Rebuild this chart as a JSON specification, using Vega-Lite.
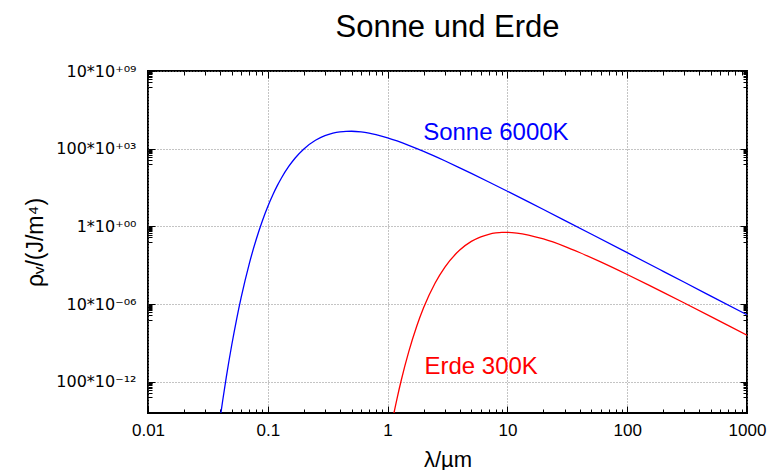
{
  "$schema": "https://vega.github.io/schema/vega-lite/v6.json",
  "width": 599,
  "height": 342,
  "autosize": {"type": "none"},
  "padding": {"left": 148, "top": 71, "right": 24, "bottom": 57},
  "background": "white",
  "config": {
    "font": "Liberation Sans",
    "view": {"stroke": "black", "strokeWidth": 2},
    "axis": {"labelColor": "black", "titleColor": "black", "tickColor": "black", "tickWidth": 1, "domain": false, "labelOverlap": false, "labelFlush": false, "titleFontWeight": "normal"}
  },
  "title": {"text": "Sonne und Erde", "fontSize": 31, "fontWeight": "normal", "font": "Liberation Sans", "color": "black", "baseline": "alphabetic", "offset": -5, "anchor": "middle"},
  "datasets": {
    "curves": [
      {"lam": 0.035, "u": 1.66e-16, "curve": "Sonne"},
      {"lam": 0.04, "u": 4.49e-13, "curve": "Sonne"},
      {"lam": 0.042, "u": 6.11e-12, "curve": "Sonne"},
      {"lam": 0.045, "u": 1.95e-10, "curve": "Sonne"},
      {"lam": 0.05, "u": 2.37e-8, "curve": "Sonne"},
      {"lam": 0.055, "u": 1.15e-6, "curve": "Sonne"},
      {"lam": 0.06, "u": 2.82e-5, "curve": "Sonne"},
      {"lam": 0.07, "u": 3.94e-3, "curve": "Sonne"},
      {"lam": 0.08, "u": 0.146, "curve": "Sonne"},
      {"lam": 0.09, "u": 2.27, "curve": "Sonne"},
      {"lam": 0.1, "u": 19.25, "curve": "Sonne"},
      {"lam": 0.11, "u": 105.7, "curve": "Sonne"},
      {"lam": 0.12, "u": 420.7, "curve": "Sonne"},
      {"lam": 0.13, "u": 1312, "curve": "Sonne"},
      {"lam": 0.15, "u": 7499, "curve": "Sonne"},
      {"lam": 0.17, "u": 26320, "curve": "Sonne"},
      {"lam": 0.2, "u": 96830, "curve": "Sonne"},
      {"lam": 0.25, "u": 3.496e5, "curve": "Sonne"},
      {"lam": 0.3, "u": 6.94e5, "curve": "Sonne"},
      {"lam": 0.35, "u": 1.007e6, "curve": "Sonne"},
      {"lam": 0.4, "u": 1.218e6, "curve": "Sonne"},
      {"lam": 0.45, "u": 1.319e6, "curve": "Sonne"},
      {"lam": 0.5, "u": 1.332e6, "curve": "Sonne"},
      {"lam": 0.6, "u": 1.202e6, "curve": "Sonne"},
      {"lam": 0.7, "u": 9.99e5, "curve": "Sonne"},
      {"lam": 0.8, "u": 8.01e5, "curve": "Sonne"},
      {"lam": 1, "u": 4.995e5, "curve": "Sonne"},
      {"lam": 1.2, "u": 3.148e5, "curve": "Sonne"},
      {"lam": 1.5, "u": 1.667e5, "curve": "Sonne"},
      {"lam": 2, "u": 6.74e4, "curve": "Sonne"},
      {"lam": 3, "u": 1.68e4, "curve": "Sonne"},
      {"lam": 4, "u": 5937, "curve": "Sonne"},
      {"lam": 5, "u": 2597, "curve": "Sonne"},
      {"lam": 7, "u": 727.5, "curve": "Sonne"},
      {"lam": 10, "u": 184.3, "curve": "Sonne"},
      {"lam": 15, "u": 37.93, "curve": "Sonne"},
      {"lam": 20, "u": 12.25, "curve": "Sonne"},
      {"lam": 30, "u": 2.47, "curve": "Sonne"},
      {"lam": 50, "u": 0.3253, "curve": "Sonne"},
      {"lam": 100, "u": 0.02058, "curve": "Sonne"},
      {"lam": 200, "u": 1.294e-3, "curve": "Sonne"},
      {"lam": 300, "u": 2.562e-4, "curve": "Sonne"},
      {"lam": 500, "u": 3.323e-5, "curve": "Sonne"},
      {"lam": 1000, "u": 2.08e-6, "curve": "Sonne"},
      {"lam": 1.0, "u": 7.41e-15, "curve": "Erde"},
      {"lam": 1.1, "u": 3.63e-13, "curve": "Erde"},
      {"lam": 1.2, "u": 8.83e-12, "curve": "Erde"},
      {"lam": 1.3, "u": 1.28e-10, "curve": "Erde"},
      {"lam": 1.5, "u": 8.55e-9, "curve": "Erde"},
      {"lam": 1.75, "u": 3.81e-7, "curve": "Erde"},
      {"lam": 2, "u": 6.02e-6, "curve": "Erde"},
      {"lam": 2.5, "u": 2.383e-4, "curve": "Erde"},
      {"lam": 3, "u": 2.344e-3, "curve": "Erde"},
      {"lam": 4, "u": 0.03027, "curve": "Erde"},
      {"lam": 5, "u": 0.1092, "curve": "Erde"},
      {"lam": 6, "u": 0.2168, "curve": "Erde"},
      {"lam": 7, "u": 0.3147, "curve": "Erde"},
      {"lam": 8, "u": 0.3805, "curve": "Erde"},
      {"lam": 9, "u": 0.4122, "curve": "Erde"},
      {"lam": 10, "u": 0.4162, "curve": "Erde"},
      {"lam": 12, "u": 0.3757, "curve": "Erde"},
      {"lam": 15, "u": 0.2803, "curve": "Erde"},
      {"lam": 20, "u": 0.1561, "curve": "Erde"},
      {"lam": 30, "u": 0.05209, "curve": "Erde"},
      {"lam": 40, "u": 0.02104, "curve": "Erde"},
      {"lam": 60, "u": 5.248e-3, "curve": "Erde"},
      {"lam": 100, "u": 8.116e-4, "curve": "Erde"},
      {"lam": 150, "u": 1.746e-4, "curve": "Erde"},
      {"lam": 200, "u": 5.76e-5, "curve": "Erde"},
      {"lam": 300, "u": 1.185e-5, "curve": "Erde"},
      {"lam": 500, "u": 1.587e-6, "curve": "Erde"},
      {"lam": 700, "u": 4.19e-7, "curve": "Erde"},
      {"lam": 1000, "u": 1.017e-7, "curve": "Erde"}
    ],
    "labels": [
      {"lam": 1.98, "u": 3.5e5, "curve": "Sonne", "label": "Sonne 6000K"},
      {"lam": 2.03, "u": 3.2e-10, "curve": "Erde", "label": "Erde 300K"}
    ]
  },
  "layer": [
    {
      "data": {"name": "curves"},
      "mark": {"type": "line", "clip": true, "strokeWidth": 1.3, "interpolate": "monotone"},
      "encoding": {
        "x": {
          "field": "lam", "type": "quantitative",
          "scale": {"type": "log", "domain": [0.01, 1000], "nice": false},
          "axis": {
            "orient": "bottom",
            "title": "λ/µm", "titleFontSize": 22, "titlePadding": 8,
            "values": [0.01,0.02,0.03,0.04,0.05,0.06,0.07,0.08,0.09,0.1,0.2,0.3,0.4,0.5,0.6,0.7,0.8,0.9,1,2,3,4,5,6,7,8,9,10,20,30,40,50,60,70,80,90,100,200,300,400,500,600,700,800,900,1000],
            "labelExpr": "indexof([0.01,0.1,1,10,100,1000], datum.value) >= 0 ? datum.value == 0.01 ? '0.01' : datum.value == 0.1 ? '0.1' : format(datum.value, 'd') : ''",
            "labelFontSize": 17, "labelPadding": 16,
            "tickSize": {"condition": {"test": "indexof([0.01,0.1,1,10,100,1000], datum.value) >= 0", "value": -7}, "value": -4},
            "grid": true, "gridColor": "#888888", "gridDash": [1, 2], "gridWidth": 1,
            "gridOpacity": {"condition": {"test": "indexof([0.01,0.1,1,10,100,1000], datum.value) >= 0", "value": 1}, "value": 0}
          }
        },
        "y": {
          "field": "u", "type": "quantitative",
          "scale": {"type": "log", "domain": [1e-12, 1e10], "nice": false},
          "axis": {
            "orient": "left",
            "title": "ρᵥ/(J/m⁴)", "titleFontSize": 23, "titlePadding": 8,
            "values": [1e10,9e9,8e9,7e9,6e9,5e9,4e9,3e9,2e9,1e9,1e5,9e4,8e4,7e4,6e4,5e4,4e4,3e4,2e4,1e4,1,0.9,0.8,0.7,0.6,0.5,0.4,0.3,0.2,0.1,1e-5,9e-6,8e-6,7e-6,6e-6,5e-6,4e-6,3e-6,2e-6,1e-6,1e-10,9e-11,8e-11,7e-11,6e-11,5e-11,4e-11,3e-11,2e-11,1e-11],
            "labelExpr": "datum.value == 1e10 ? '10*10⁺⁰⁹' : datum.value == 1e5 ? '100*10⁺⁰³' : datum.value == 1 ? '1*10⁺⁰⁰' : datum.value == 1e-5 ? '10*10⁻⁰⁶' : datum.value == 1e-10 ? '100*10⁻¹²' : ''",
            "labelFont": "DejaVu Sans", "labelFontSize": 16, "labelPadding": 19,
            "tickSize": {"condition": {"test": "indexof([1e10,1e5,1,1e-5,1e-10], datum.value) >= 0", "value": -7}, "value": -4},
            "grid": true, "gridColor": "#888888", "gridDash": [1, 2], "gridWidth": 1,
            "gridOpacity": {"condition": {"test": "indexof([1e10,1e5,1,1e-5,1e-10], datum.value) >= 0", "value": 1}, "value": 0}
          }
        },
        "color": {"field": "curve", "type": "nominal", "scale": {"domain": ["Sonne", "Erde"], "range": ["#0000ff", "#ff0000"]}, "legend": null},
        "detail": {"field": "curve"}
      }
    },
    {
      "data": {"name": "labels"},
      "mark": {"type": "text", "align": "left", "baseline": "alphabetic", "fontSize": 24, "font": "Liberation Sans"},
      "encoding": {
        "x": {
          "field": "lam", "type": "quantitative",
          "axis": {
            "orient": "top", "title": null, "labels": false, "grid": false,
            "values": [0.01,0.02,0.03,0.04,0.05,0.06,0.07,0.08,0.09,0.1,0.2,0.3,0.4,0.5,0.6,0.7,0.8,0.9,1,2,3,4,5,6,7,8,9,10,20,30,40,50,60,70,80,90,100,200,300,400,500,600,700,800,900,1000],
            "tickSize": {"condition": {"test": "indexof([0.01,0.1,1,10,100,1000], datum.value) >= 0", "value": -7}, "value": -4}
          }
        },
        "y": {
          "field": "u", "type": "quantitative",
          "axis": {
            "orient": "right", "title": null, "labels": false, "grid": false,
            "values": [1e10,9e9,8e9,7e9,6e9,5e9,4e9,3e9,2e9,1e9,1e5,9e4,8e4,7e4,6e4,5e4,4e4,3e4,2e4,1e4,1,0.9,0.8,0.7,0.6,0.5,0.4,0.3,0.2,0.1,1e-5,9e-6,8e-6,7e-6,6e-6,5e-6,4e-6,3e-6,2e-6,1e-6,1e-10,9e-11,8e-11,7e-11,6e-11,5e-11,4e-11,3e-11,2e-11,1e-11],
            "tickSize": {"condition": {"test": "indexof([1e10,1e5,1,1e-5,1e-10], datum.value) >= 0", "value": -7}, "value": -4}
          }
        },
        "text": {"field": "label"},
        "color": {"field": "curve", "type": "nominal", "legend": null}
      }
    }
  ],
  "resolve": {"axis": {"x": "independent", "y": "independent"}}
}
